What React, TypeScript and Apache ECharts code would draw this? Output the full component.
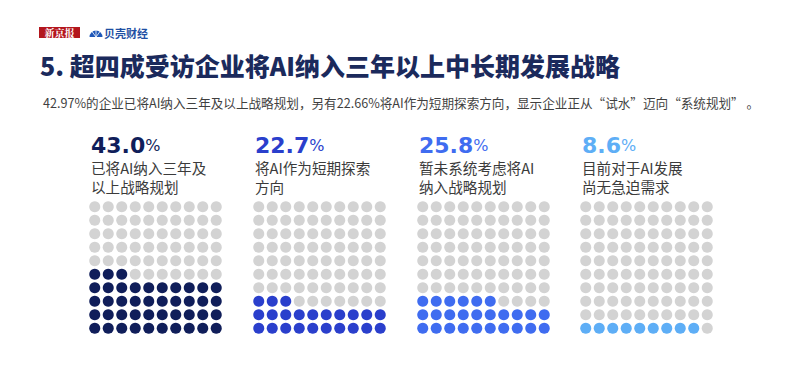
import React, { useEffect, useRef } from "react";
import * as echarts from "echarts";

const percents = ["43.0", "22.7", "25.8", "8.6"];
const dotCounts = [43, 23, 26, 9];
const labelLine1 = ["已将AI纳入三年及", "将AI作为短期探索", "暂未系统考虑将AI", "目前对于AI发展"];
const labelLine2 = ["以上战略规划", "方向", "纳入战略规划", "尚无急迫需求"];
const fillColors = ["#101e5a", "#2a3fcc", "#3f6cf0", "#5eaef6"];
const emptyColor = "#d3d3d3";
const titleText = "5. 超四成受访企业将AI纳入三年以上中长期发展战略";
const subtitleText = "42.97%的企业已将AI纳入三年及以上战略规划，另有22.66%将AI作为短期探索方向，显示企业正从“试水”迈向“系统规划” 。";

const CJK = "'Noto Sans CJK SC', 'Noto Sans', sans-serif";
const NUM = "'DejaVu Sans', 'Liberation Sans', sans-serif";

export default function App() {
  const ref = useRef<HTMLDivElement>(null);
  useEffect(() => {
    const chart = echarts.init(ref.current!, null, { renderer: "svg" });
    const panelLeft = [88, 252, 416, 579];
    const gridTop = 200;
    const gridSize = 135;
    const grids: any[] = [];
    const xAxes: any[] = [];
    const yAxes: any[] = [];
    const series: any[] = [];
    const graphics: any[] = [];
    dotCounts.forEach((n, p) => {
      grids.push({ left: panelLeft[p], top: gridTop, width: gridSize, height: gridSize });
      const axisBase = { type: "value", min: -0.5, max: 9.5, show: false };
      xAxes.push({ ...axisBase, gridIndex: p });
      yAxes.push({ ...axisBase, gridIndex: p });
      const filled: number[][] = [];
      const empty: number[][] = [];
      for (let i = 0; i < 100; i++) {
        const pt = [i % 10, Math.floor(i / 10)];
        if (i < n) filled.push(pt);
        else empty.push(pt);
      }
      series.push({
        type: "scatter", xAxisIndex: p, yAxisIndex: p, data: empty,
        symbolSize: 11, itemStyle: { color: emptyColor, opacity: 1 }, silent: true,
      });
      series.push({
        type: "scatter", xAxisIndex: p, yAxisIndex: p, data: filled,
        symbolSize: 11, itemStyle: { color: fillColors[p], opacity: 1 }, silent: true,
      });
      const tx = panelLeft[p] + 3;
      graphics.push({
        type: "text", x: tx, y: 145.5,
        style: {
          rich: {
            n: { fontSize: 22, lineHeight: 22, fontWeight: 700, fontFamily: NUM, fill: fillColors[p] },
            pc: { fontSize: 16, lineHeight: 22, fontWeight: 400, fontFamily: NUM, fill: fillColors[p] },
          },
          text: `{n|${percents[p]}}{pc|%}`,
          verticalAlign: "middle",
        },
      });
      graphics.push({
        type: "text", x: tx, y: 167.5,
        style: { text: labelLine1[p], fontSize: 14.6, fontFamily: CJK, fill: "#3b3b3b", verticalAlign: "middle" },
      });
      graphics.push({
        type: "text", x: tx, y: 186.5,
        style: { text: labelLine2[p], fontSize: 14.6, fontFamily: CJK, fill: "#3b3b3b", verticalAlign: "middle" },
      });
    });

    graphics.push(
      { type: "rect", shape: { x: 39, y: 27, width: 41, height: 11 }, style: { fill: "#b3161d" } },
      { type: "text", x: 59.5, y: 32.5, style: { text: "新京报", fontSize: 10, fontWeight: 700, fontFamily: "'Noto Serif CJK SC', 'Noto Sans CJK SC', serif", fill: "#ffffff", align: "center", verticalAlign: "middle" } },
      { type: "sector", shape: { cx: 96, cy: 37, r0: 0, r: 6.5, startAngle: Math.PI, endAngle: Math.PI * 2 }, style: { fill: "#1e57b8" } },
      { type: "line", shape: { x1: 96, y1: 37, x2: 92, y2: 31.5 }, style: { stroke: "#fff", lineWidth: 0.8 } },
      { type: "line", shape: { x1: 96, y1: 37, x2: 96, y2: 30 }, style: { stroke: "#fff", lineWidth: 0.8 } },
      { type: "line", shape: { x1: 96, y1: 37, x2: 100, y2: 31.5 }, style: { stroke: "#fff", lineWidth: 0.8 } },
      { type: "text", x: 104, y: 33, style: { text: "贝壳财经", fontSize: 11, fontWeight: 700, fontFamily: CJK, fill: "#1e4fa3", verticalAlign: "middle" } },
      { type: "text", x: 40, y: 65, style: { text: titleText, fontSize: 25, fontWeight: 900, fontFamily: CJK, fill: "#1b2a5c", verticalAlign: "middle" } },
      { type: "text", x: 43, y: 102, style: { text: subtitleText, fontSize: 12.6, fontFamily: CJK, fill: "#3f3f3f", verticalAlign: "middle" } },
    );

    chart.setOption({
      animation: false,
      backgroundColor: "#ffffff",
      grid: grids,
      xAxis: xAxes,
      yAxis: yAxes,
      series,
      graphic: graphics,
    });
    return () => chart.dispose();
  }, []);
  return <div ref={ref} style={{ width: 800, height: 379, position: "absolute", left: 0, top: 0 }} />;
}
